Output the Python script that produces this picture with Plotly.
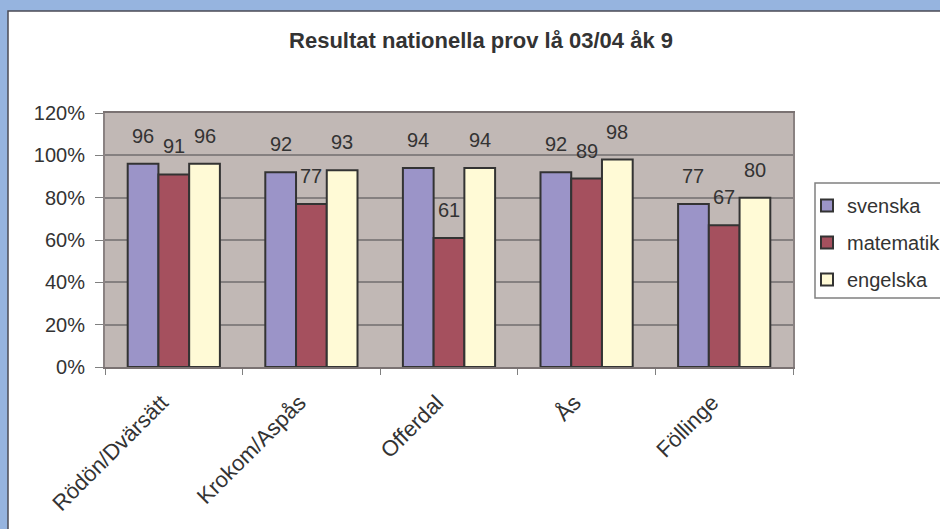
import plotly.graph_objects as go

schools = ["Rödön/Dvärsätt", "Krokom/Aspås", "Offerdal", "Ås", "Föllinge"]
svenska = [96, 92, 94, 92, 77]
matematik = [91, 77, 61, 89, 67]
engelska = [96, 93, 94, 98, 80]
subjects = ["svenska", "matematik", "engelska"]
colors = ["#9b94c8", "#a5505e", "#fffad6"]

W, H = 940, 529
L, R, T, B = 105, 793, 113, 367   # plot area in pixels

def px(x):
    return (x - L) / (R - L)

def py(y):
    return (B - y) / (B - T)

font = "Arial, Liberation Sans, sans-serif"
fig = go.Figure()

series = [svenska, matematik, engelska]
for name, vals, col in zip(subjects, series, colors):
    fig.add_trace(go.Bar(x = schools, y = [v / 100 for v in vals], name = name, legendgroup = name,
    marker = dict(color = col, line = dict(color = '#333333', width = 2))))

# data labels above each bar
bar_px = (R - L) / len(schools) * 0.67 / 3
annotations = []
for i, vals in enumerate(series):
    for s, v in zip(schools, vals):
        annotations.append(dict(x = s, y = v / 100, xref = 'x', yref = 'y', text = str(v), showarrow = False,
        xshift = (i - 1) * bar_px, yshift = 15, yanchor = 'bottom', font = dict(family = font, size = 20, color = '#333333')))

shapes = [
    dict(type = 'rect', xref = 'paper', yref = 'paper', x0 = px(-5), x1 = px(W + 5), y0 = py(11), y1 = py(-5),
    fillcolor = '#96b4df', line = dict(width = 0)),
    dict(type = 'rect', xref = 'paper', yref = 'paper', x0 = px(-5), x1 = px(8), y0 = py(-5), y1 = py(H + 5),
    fillcolor = '#96b4df', line = dict(width = 0)),
    dict(type = 'rect', xref = 'paper', yref = 'paper', x0 = px(8), x1 = px(W + 20), y0 = py(11), y1 = py(H + 20),
    fillcolor = 'rgba(0,0,0,0)', line = dict(color = '#4b4b55', width = 1.5)),
    # legend box
    dict(type = 'rect', xref = 'paper', yref = 'paper', x0 = px(815), x1 = px(W + 10), y0 = py(183), y1 = py(298),
    fillcolor = '#ffffff', line = dict(color = '#808080', width = 1.5)),
]

fig.update_layout(width = W, height = H, barmode = 'group', bargap = 0.33, bargroupgap = 0,
margin = dict(l = L, r = W - R, t = T, b = H - B, autoexpand = False),
paper_bgcolor = '#ffffff', plot_bgcolor = '#c1b8b5', font = dict(family = font, size = 20, color = '#333333'),
title = dict(text = "<b>Resultat nationella prov lå 03/04 åk 9</b>", x = 481 / W, y = 1 - 40 / H, xref = 'container',
yref = 'container', xanchor = 'center', yanchor = 'middle', font = dict(family = font, size = 22, color = '#333333')),
legend = dict(x = px(807), y = py(186), xanchor = 'left', yanchor = 'top', bgcolor = 'rgba(0,0,0,0)',
borderwidth = 0, tracegroupgap = 8, itemwidth = 30, font = dict(family = font, size = 20, color = '#333333')),
annotations = annotations, shapes = shapes, showlegend = True)

fig.update_xaxes(tickangle = -45, tickson = 'boundaries', ticks = 'outside', ticklen = 6, tickcolor = '#808080',
showline = True, mirror = True, linecolor = '#7a7272', linewidth = 2, tickfont = dict(size = 22),
ticklabelstandoff = 12, ticklabelshift = -12)
fig.update_yaxes(range = [0, 1.2], dtick = 0.2, tickformat = '.0%', ticks = 'outside', ticklen = 8, tickcolor = '#808080',
showgrid = True, gridcolor = '#858080', gridwidth = 1.5, showline = True, mirror = True, linecolor = '#8a8282',
linewidth = 2, zeroline = False, tickfont = dict(size = 20), ticklabelstandoff = 6)

fig.write_html("out.html", config = dict(displayModeBar = False), post_script = "document.body.style.margin = '0';")
